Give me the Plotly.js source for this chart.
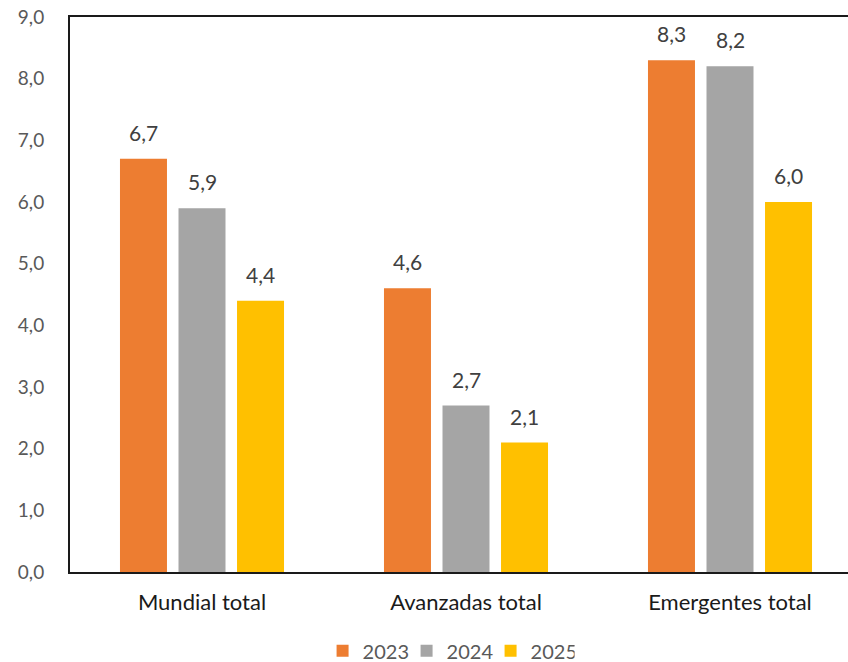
<!DOCTYPE html>
<html><head><meta charset="utf-8">
<script src="https://cdn.plot.ly/plotly-3.0.1.min.js"></script>
<style>html,body{margin:0;padding:0;overflow:hidden;background:#fff}#chart{width:870px;height:662px}</style>
</head><body><div id="chart"></div>
<script>
const categories = ["Mundial total", "Avanzadas total", "Emergentes total"];
const years = ["2023", "2024", "2025"];
const values2023 = [6.7, 4.6, 8.3];
const values2024 = [5.9, 2.7, 8.2];
const values2025 = [4.4, 2.1, 6.0];
const yTicks = [0,1,2,3,4,5,6,7,8,9];

const series = [values2023, values2024, values2025];
const colors = ["#ED7D31", "#A5A5A5", "#FFC000"];
const font = "Lato, 'Open Sans', sans-serif";

const traces = series.map((vals, j) => ({
  type: "bar", name: years[j], x: categories, y: vals,
  marker: {color: colors[j]}, hoverinfo: "skip"
}));

const slot = 58.5/264;
const annotations = [];
series.forEach((vals, j) => vals.forEach((v, i) => {
  annotations.push({
    x: i + (j-1)*slot, y: v, xref: "x", yref: "y",
    text: v.toFixed(1).replace(".", ","), showarrow: false,
    yanchor: "bottom", yshift: 12,
    font: {family: font, size: 21, color: "#404040"}
  });
}));

Plotly.newPlot("chart", traces, {
  width: 870, height: 662,
  margin: {l: 70, r: 8, t: 17, b: 90, autoexpand: false},
  separators: ", ",
  barmode: "group", bargap: 0.335, bargroupgap: 0.197,
  paper_bgcolor: "#fff", plot_bgcolor: "#fff",
  showlegend: true,
  legend: {orientation: "h", x: 0.478, xanchor: "center", y: -0.142, yanchor: "middle",
    entrywidth: 39, itemwidth: 30, tracegroupgap: 0,
    font: {family: font, size: 20, color: "#595959"}, traceorder: "normal"},
  xaxis: {type: "category", range: [-0.5, 2.5], showline: true, linecolor: "#1a1a1a", linewidth: 2,
    mirror: true, showgrid: false, ticks: "", ticklabelstandoff: 10, automargin: false,
    tickfont: {family: font, size: 22, color: "#1a1a1a"}},
  yaxis: {range: [0, 9], tickvals: yTicks, tickformat: ".1f", showline: true, linecolor: "#1a1a1a",
    linewidth: 2, mirror: true, showgrid: false, zeroline: false, ticks: "", ticklabelstandoff: 20,
    automargin: false, tickfont: {family: font, size: 19, color: "#595959"}},
  annotations: annotations
}, {displayModeBar: false, staticPlot: true});
</script></body></html>
